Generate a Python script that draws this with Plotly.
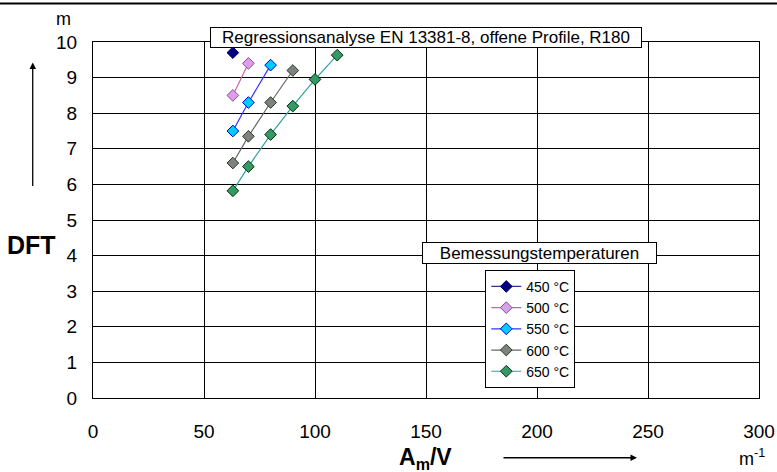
import plotly.graph_objects as go

# Bemessungstemperaturen und Messwerte (A_m/V in 1/m, DFT in m)
temperaturen = ["450 °C", "500 °C", "550 °C", "600 °C", "650 °C"]
x_450 = [63]
y_450 = [9.7]
x_500 = [63, 70]
y_500 = [8.5, 9.4]
x_550 = [63, 70, 80]
y_550 = [7.5, 8.3, 9.35]
x_600 = [63, 70, 80, 90]
y_600 = [6.6, 7.35, 8.3, 9.2]
x_650 = [63, 70, 80, 90, 100, 110]
y_650 = [5.82, 6.5, 7.4, 8.2, 8.95, 9.63]

xs = [x_450, x_500, x_550, x_600, x_650]
ys = [y_450, y_500, y_550, y_600, y_650]
line_cols = ["#333399", "#cc6699", "#3333ff", "#666666", "#2ea3a3"]
fill_cols = ["#000080", "#d9a0e8", "#00ccff", "#808080", "#339966"]
edge_cols = ["#000066", "#a0409a", "#0000cc", "#1f3f1f", "#003300"]

FONT = "Liberation Sans, Arial, sans-serif"

fig = go.Figure()
for name, x, y, lc, fc, ec in zip(temperaturen, xs, ys, line_cols, fill_cols, edge_cols):
    fig.add_trace(go.Scatter(
        x=x, y=y, name=name, mode="lines+markers",
        line=dict(color=lc, width=1.2),
        marker=dict(symbol="diamond", size=9, color=fc, line=dict(color=ec, width=1)),
    ))

fig.update_layout(
    width=777, height=472,
    margin=dict(l=93, r=18, t=42, b=74),
    paper_bgcolor="white", plot_bgcolor="white",
    font=dict(family=FONT, color="black"),
    showlegend=True,
    legend=dict(
        x=0.589, y=0.36, xanchor="left", yanchor="top",
        bgcolor="white", bordercolor="black", borderwidth=1,
        font=dict(size=14, family=FONT), itemwidth=30, tracegroupgap=0,
    ),
)

fig.update_xaxes(
    range=[0, 300], dtick=50, showgrid=True, gridcolor="black", gridwidth=1,
    showline=True, linecolor="black", linewidth=1, mirror=True,
    zeroline=False, ticks="", ticklabelstandoff=16, automargin=False,
    tickfont=dict(size=19, family=FONT),
)
fig.update_yaxes(
    range=[0, 10], dtick=1, showgrid=True, gridcolor="black", gridwidth=1,
    showline=True, linecolor="black", linewidth=1, mirror=True,
    zeroline=False, ticks="", ticklabelstandoff=11, automargin=False,
    tickfont=dict(size=19, family=FONT),
)

def text_note(text, x, y, size, **kw):
    fig.add_annotation(text=text, xref="paper", yref="paper", x=x, y=y,
                       xanchor="center", yanchor="middle", showarrow=False,
                       font=dict(size=size), **kw)

# Titelbox und Legendentitel
text_note("Regressionsanalyse EN 13381-8, offene Profile, R180", 0.5, 1.0126, 17,
          bgcolor="white", bordercolor="black", borderwidth=1,
          width=430, height=19, borderpad=0)
text_note("Bemessungstemperaturen", 0.6697, 0.4084, 17,
          bgcolor="white", bordercolor="black", borderwidth=1,
          width=233, height=20, borderpad=0)

# Achsbeschriftungen
text_note("m", -0.045, 1.066, 18)
text_note("<b>DFT</b>", -0.093, 0.431, 25)
text_note("<b>A<sub>m</sub>/V</b>", 0.4985, -0.17, 23)
text_note("m<sup>-1</sup>", 0.9895, -0.168, 18)

# Pfeile
fig.add_annotation(text="", xref="paper", yref="paper", x=0.8168, y=-0.1678,
                   ax=-135, ay=0, showarrow=True, arrowhead=2, arrowsize=1,
                   arrowwidth=1.3, arrowcolor="black")
fig.add_annotation(text="", xref="paper", yref="paper", x=-0.0905, y=0.9424,
                   ax=0, ay=125, showarrow=True, arrowhead=2, arrowsize=1,
                   arrowwidth=1.3, arrowcolor="black")

# Linie am oberen Bildrand
fig.add_shape(type="line", xref="paper", yref="paper", x0=-0.14, x1=1.027,
              y0=1.108, y1=1.108, line=dict(color="black", width=2))

fig.write_html("out.html", config={"displayModeBar": False},
               post_script="document.body.style.margin='0';")
